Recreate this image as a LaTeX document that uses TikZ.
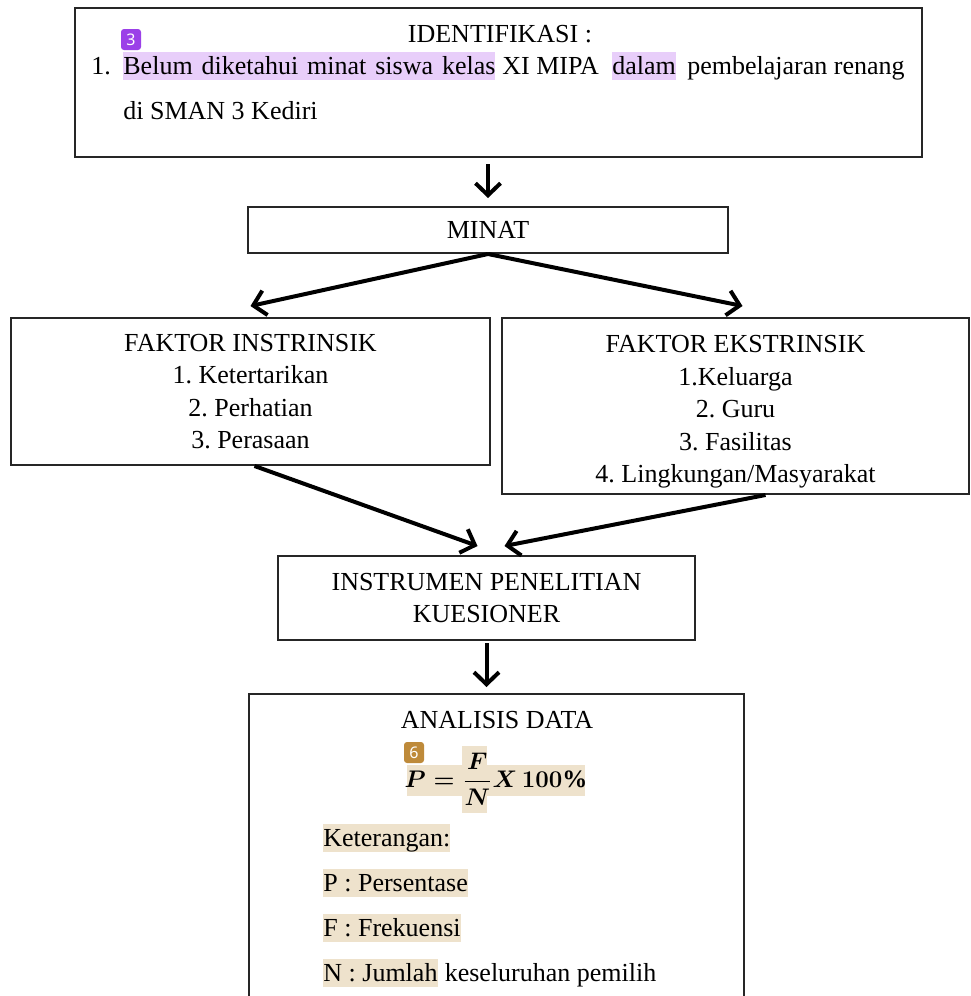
\documentclass[tikz,border=0pt]{standalone}
\usepackage{fontspec}
\usepackage{amsmath}
\setmainfont{Liberation Serif}
\newfontfamily\badgefont{Noto Sans}
\usetikzlibrary{arrows.meta}
\definecolor{hlpurple}{RGB}{232,206,250}
\definecolor{hltan}{RGB}{238,226,204}
\definecolor{badgepurple}{RGB}{155,64,232}
\definecolor{badgegold}{RGB}{190,138,58}
\frenchspacing
\tikzset{
  box/.style={draw=black!85, line width=1pt, inner sep=0pt, align=center},
  flow/.style={line width=2pt, -{Straight Barb[length=6pt,width=12.5pt]}},
  hlpurp/.style={fill=hlpurple, inner sep=0pt, text height=11pt, text depth=3pt},
  hltanbox/.style={fill=hltan, inner sep=0pt, text height=11pt, text depth=3pt},
  badge/.style={rounded corners=1.5pt, inner sep=0pt, minimum width=10pt, minimum height=10.5pt, text=white, font=\badgefont\fontsize{8}{9}\selectfont},
}
\begin{document}
\begin{tikzpicture}[x=0.5pt, y=-0.5pt, font=\fontsize{13}{16.25}\selectfont]
\useasboundingbox (0,0) rectangle (970,996);

% boxes
\node[box, minimum width=423.5pt, minimum height=74.5pt] (ident) at (498.5,82.5) {};
\node[box, minimum width=240pt, minimum height=23pt] (minat) at (488,230) {MINAT};
\node[box, minimum width=239.5pt, minimum height=73.5pt] (intr) at (250.5,391.5)
  {FAKTOR INSTRINSIK\\1. Ketertarikan\\2. Perhatian\\3. Perasaan};
\node[box, minimum width=233.5pt, minimum height=88pt] (ekstr) at (735.5,406)
  {\rule{0pt}{14.5pt}FAKTOR EKSTRINSIK\\1.Keluarga\\2. Guru\\3. Fasilitas\\4. Lingkungan/Masyarakat};
\node[box, minimum width=208.5pt, minimum height=42pt] (instr) at (486.5,598)
  {INSTRUMEN PENELITIAN\\KUESIONER};
\node[box, minimum width=247.5pt, minimum height=163pt] (anal) at (496.5,857) {};

% identifikasi
\node[anchor=base] (identtitle) at (500,42) {IDENTIFIKASI :};
\node[anchor=base west, inner sep=0pt] (num1) at (91,74) {1.};
\node[hlpurp, anchor=base west] (seg1) at (123,74) {\makebox[186pt][s]{Belum diketahui minat siswa kelas}};
\node[anchor=base west, inner sep=0pt] (seg2) at (502,74) {XI MIPA};
\node[hlpurp, anchor=base west] (seg3) at (612,74) {dalam};
\node[anchor=base east, inner sep=0pt] (seg4) at (905,74) {pembelajaran renang};
\node[anchor=base west, inner sep=0pt] (line2) at (123,119) {di SMAN 3 Kediri};
\node[badge, fill=badgepurple] (badge3) at (131,39.5) {3};

% analisis
\node[anchor=base] (analtitle) at (497,728) {ANALISIS DATA};
\fill[hltan] (407,765) rectangle (585,796);
\fill[hltan] (462,746) rectangle (487,780);
\fill[hltan] (462,783) rectangle (487,813);
\node[inner sep=0pt, font=\fontsize{12.5}{15}\selectfont] (rumus) at (496,779) {$\boldsymbol{P = \dfrac{F}{N}X\,100\%}$};
\node[badge, fill=badgegold] (badge6) at (414,752.5) {6};
\foreach \y/\txt/\nm in {846/Keterangan:/ket, 891/P : Persentase/ketp, 936/F : Frekuensi/ketf}
  \node[hltanbox, anchor=base west] (\nm) at (323,\y) {\txt};
\node[hltanbox, anchor=base west] (ketn) at (323,981) {N : Jumlah};
\node[anchor=base west, inner sep=0pt] (ketn2) at (ketn.base east) {\ keseluruhan pemilih};

% arrows
\draw[flow, shorten <=3pt, shorten >=4pt] (ident.south -| minat.north) -- (minat.north);
\draw[flow] (minat.south) -- ([yshift=5.5pt]intr.north);
\draw[flow] (minat.south) -- ([shift={(3.5pt,5.5pt)}]ekstr.north);
\draw[flow] ([xshift=2pt]intr.south) -- ([shift={(-4.5pt,4.5pt)}]instr.north);
\draw[flow] ([xshift=15pt]ekstr.south) -- ([shift={(9pt,4.5pt)}]instr.north);
\draw[flow, shorten <=1pt, shorten >=3pt] (instr.south) -- (instr.south |- anal.north);

\end{tikzpicture}
\end{document}
